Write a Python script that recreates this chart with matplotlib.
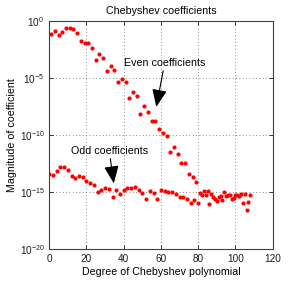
import matplotlib

matplotlib.use("Agg")
import matplotlib.pyplot as plt  # noqa: E402
import numpy as np  # noqa: E402
from matplotlib.ticker import FixedLocator, NullLocator  # noqa: E402

# log10 |c_k|
even_deg = np.arange(1, 80, 2)
even_log = [
    -1.20, -0.90, -1.25, -0.99, -0.64, -0.59, -0.76, -1.05, -1.78, -1.93,
    -1.93, -2.37, -3.42, -2.87, -3.22, -4.41, -3.97, -4.27, -5.35, -5.09,
    -5.38, -6.73, -6.23, -6.61, -8.16, -7.43, -7.98, -8.77, -8.75, -9.50,
    -9.87, -10.11, -11.52, -11.10, -11.65, -12.50, -12.50, -13.42, -13.67, -14.12,
]
odd_deg = np.arange(0, 80, 2)
odd_log = [
    -13.42, -13.54, -13.18, -12.83, -12.81, -13.04, -13.57, -13.77, -13.57, -13.68,
    -14.01, -14.18, -14.36, -15.03, -14.85, -14.62, -14.71, -15.41, -14.85, -15.20,
    -14.82, -14.65, -14.65, -14.59, -14.80, -15.11, -15.59, -14.89, -15.06, -15.61,
    -14.82, -14.91, -14.97, -15.03, -15.18, -15.44, -15.44, -15.61, -15.99, -15.70,
]
# both series sit at rounding level past degree 80
tail_deg = np.arange(80, 109)
tail_log = [
    -15.96, -15.11, -15.26, -14.89, -15.26, -14.89, -16.05, -15.18, -15.44, -15.66,
    -15.83, -15.41, -15.35, -15.70, -15.04, -15.39, -15.26, -15.26, -15.61, -15.53,
    -15.31, -15.29, -15.39, -15.22, -15.99, -15.22, -16.58, -15.85, -15.26,
]

plt.rcParams["font.family"] = ["Liberation Sans", "DejaVu Sans"]
plt.rcParams["mathtext.default"] = "regular"

fig = plt.figure(figsize=(3.0, 2.81), dpi=100)
ax = fig.add_axes([0.164, 0.114, 0.745, 0.812])

style = dict(ls="none", marker="o", ms=3.0, mfc="red", mec="none")
ax.semilogy(even_deg, 10.0 ** np.array(even_log), **style)
ax.semilogy(odd_deg, 10.0 ** np.array(odd_log), **style)
ax.semilogy(tail_deg, 10.0 ** np.array(tail_log), **style)

ax.set_xlim(0, 120)
ax.set_ylim(1e-20, 1e0)
ax.xaxis.set_major_locator(FixedLocator(range(0, 121, 20)))
ax.yaxis.set_major_locator(FixedLocator([1e-20, 1e-15, 1e-10, 1e-5, 1e0]))
ax.yaxis.set_minor_locator(NullLocator())

ax.grid(True, ls=(0, (1, 3)), lw=0.6, color="0.4")
ax.tick_params(direction="in", length=3, width=0.6, labelsize=7.2,
               top=True, right=True, colors="0.1")
for sp in ax.spines.values():
    sp.set_linewidth(0.8)
    sp.set_color("0.25")

ax.set_title("Chebyshev coefficients", fontsize=7.7, pad=5)
ax.set_xlabel("Degree of Chebyshev polynomial", fontsize=7.7, labelpad=2)
ax.set_ylabel("Magnitude of coefficient", fontsize=7.7, labelpad=2)

arrow = dict(arrowstyle="-|>,head_length=0.9,head_width=0.38",
             mutation_scale=12, color="k", lw=0.8, shrinkA=0, shrinkB=0)
ax.annotate("Even coefficients", xy=(57.5, 10 ** -7.55), xytext=(62.0, 10 ** -3.7),
            fontsize=7.7, ha="center", va="center", arrowprops=arrow)
ax.annotate("Odd coefficients", xy=(34.7, 10 ** -14.25), xytext=(32.2, 10 ** -11.4),
            fontsize=7.7, ha="center", va="center", arrowprops=arrow)

fig.savefig("out.png", dpi=100)
plt.close(fig)
